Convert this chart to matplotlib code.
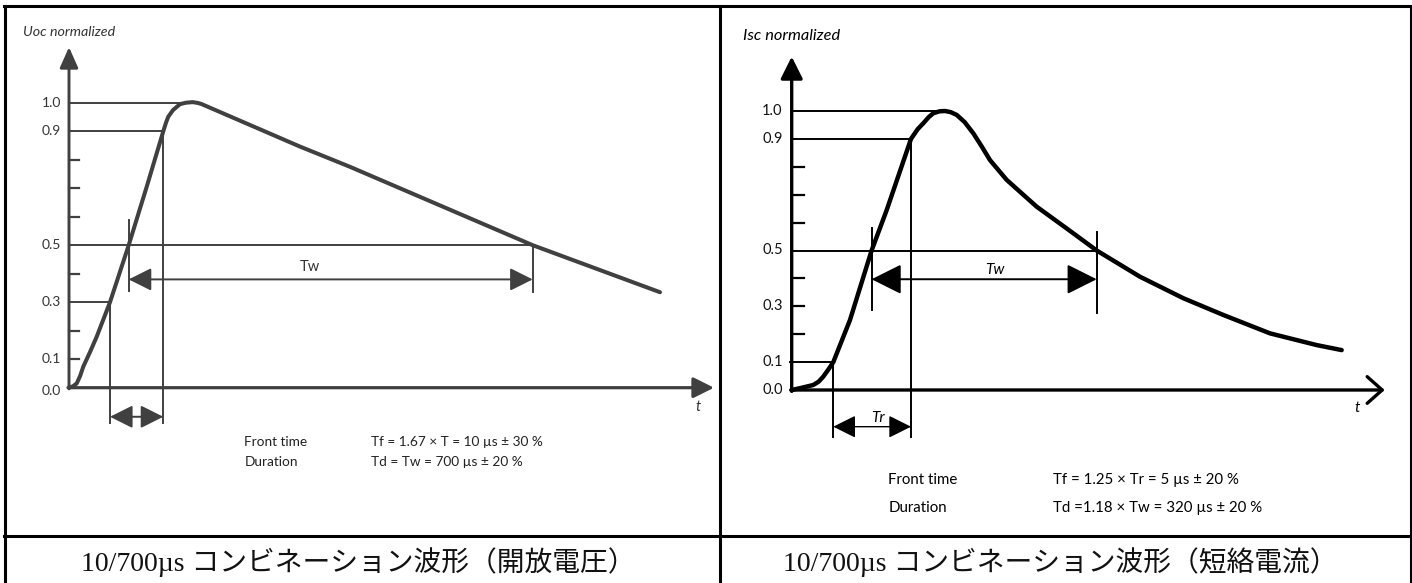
import matplotlib
matplotlib.use("Agg")
import matplotlib.pyplot as plt
from matplotlib.lines import Line2D
from matplotlib.patches import ArrowStyle

# ---------------- data ----------------
# Left panel: normalized open-circuit voltage vs time (arbitrary time units)
uoc_t = [0, 0.4, 0.77, 1.1, 1.43, 2.1, 2.77, 4.1, 5.97, 7.77, 9.43, 9.7, 9.93, 10.4, 11.1,
         11.7, 12.37, 12.9, 13.27, 23.1, 28.1, 46.37, 59.1]
uoc_v = [0, 0.005, 0.015, 0.04, 0.074, 0.125, 0.179, 0.3, 0.5, 0.705, 0.9, 0.93, 0.951, 0.974, 0.995,
         1.0, 1.002, 0.999, 0.995, 0.846, 0.775, 0.5, 0.335]
uoc_level_v = [0.3, 0.9, 1.0]          # guide lines up to the rising edge
uoc_level_t = [4.1, 9.43, 11.8]
uoc_half_rise_t = 5.97
uoc_half_fall_t = 46.37

# Right panel: normalized short-circuit current vs time (arbitrary time units)
isc_t = [0, 1.0, 2.16, 2.7, 3.16, 3.7, 4.16, 5.83, 7.99, 9.5, 11.93, 12.6, 13.16, 13.7, 14.16,
         14.8, 15.33, 15.9, 16.5, 17.3, 18.16, 19.0, 19.83, 21.5, 24.5, 27.5, 30.5, 34.83,
         39.16, 43.16, 47.83, 52.5, 55.0]
isc_v = [0, 0.008, 0.018, 0.03, 0.048, 0.075, 0.1, 0.251, 0.5, 0.645, 0.9, 0.935, 0.956, 0.978, 0.992,
         0.999, 1.0, 0.996, 0.986, 0.96, 0.92, 0.873, 0.824, 0.753, 0.657, 0.579, 0.5, 0.406,
         0.329, 0.269, 0.203, 0.161, 0.143]
isc_level_v = [0.1, 0.9, 1.0]
isc_level_t = [4.16, 11.93, 15.4]
isc_half_rise_t = 7.99
isc_half_fall_t = 30.5

tick_minor_left = [0.1, 0.2, 0.4, 0.6, 0.7, 0.8]
tick_minor_right = [0.2, 0.3, 0.4, 0.6, 0.7, 0.8]
tick_label_vals = [0.0, 0.1, 0.3, 0.5, 0.9, 1.0]
tick_label_txt = ["0.0", "0.1", "0.3", "0.5", "0.9", "1.0"]

left_ylabel = "Uoc normalized"
right_ylabel = "Isc normalized"
left_lines = [("Front time", "Tf = 1.67 × T = 10 µs ± 30 %"),
              ("Duration", "Td = Tw = 700 µs ± 20 %")]
right_lines = [("Front time", "Tf = 1.25 × Tr = 5 µs ± 20 %"),
               ("Duration", "Td =1.18 × Tw = 320 µs ± 20 %")]
captions = ["10/700µs コンビネーション波形（開放電圧）",
            "10/700µs コンビネーション波形（短絡電流）"]

# ---------------- figure ----------------
W, H = 1412, 583
fig = plt.figure(figsize=(W / 100, H / 100), dpi=100)
fig.patch.set_facecolor("white")
SANS = ["Lato", "DejaVu Sans"]
CAP = ["Liberation Serif", "Noto Sans CJK JP", "DejaVu Sans"]


def panel(px_l, px_r, px_t, px_b, t0px, v0px, ppt, ppv):
    ax = fig.add_axes([px_l / W, (H - px_b) / H, (px_r - px_l) / W, (px_b - px_t) / H])
    ax.set_xlim((px_l - t0px) / ppt, (px_r - t0px) / ppt)
    ax.set_ylim((v0px - px_b) / ppv, (v0px - px_t) / ppv)
    ax.axis("off")
    return ax


def dbl_arrow(ax, x0, x1, y, color, lw, hl, hw, scale):
    ax.annotate("", xy=(x1, y), xytext=(x0, y),
                arrowprops=dict(arrowstyle=ArrowStyle("<|-|>", head_length=hl, head_width=hw),
                                mutation_scale=scale, color=color, lw=lw,
                                shrinkA=0, shrinkB=0))


# ---- left panel ----
GL = "#404040"
axL = panel(5, 720, 6, 536, 69, 387.7, 10.0, 285.0)
axL.plot(uoc_t, uoc_v, color=GL, lw=2.9, solid_joinstyle="round", solid_capstyle="round")
axL.annotate("", xy=(0, 1.195), xytext=(0, -0.004),
             arrowprops=dict(arrowstyle=ArrowStyle("-|>", head_length=0.9, head_width=0.4),
                             mutation_scale=14, color=GL, lw=2.1, shrinkA=0, shrinkB=0))
axL.annotate("", xy=(64.5, 0), xytext=(-0.1, 0),
             arrowprops=dict(arrowstyle=ArrowStyle("-|>", head_length=0.9, head_width=0.45),
                             mutation_scale=14, color=GL, lw=2.3, shrinkA=0, shrinkB=0))
for v in tick_minor_left:
    axL.plot([0, 1.0], [v, v], color=GL, lw=1.6)
for v, t in zip(uoc_level_v, uoc_level_t):
    axL.plot([0, t], [v, v], color=GL, lw=1.4)
axL.plot([0, uoc_half_fall_t], [0.5, 0.5], color=GL, lw=1.4)
for t, v in zip(uoc_level_t[:2], uoc_level_v[:2]):
    axL.plot([t, t], [v, -0.125], color=GL, lw=1.4)
axL.plot([uoc_half_rise_t] * 2, [0.588, 0.339], color=GL, lw=1.4)
axL.plot([uoc_half_fall_t] * 2, [0.5, 0.335], color=GL, lw=1.4)
dbl_arrow(axL, uoc_half_rise_t, uoc_half_fall_t, 0.380, GL, 1.4, 1.0, 0.5, 14)
dbl_arrow(axL, uoc_level_t[0], uoc_level_t[1], -0.102, GL, 1.4, 1.0, 0.5, 14)
axL.text(24.1, 0.425, "Tw", fontsize=10.5, family=SANS, color="#333333", ha="center", va="center")
for v, s in zip(tick_label_vals, tick_label_txt):
    axL.text(-0.8, v - (0.012 if v == 0 else 0), s, fontsize=10, family=SANS, color="#333333",
             ha="right", va="center")
axL.text(-4.6, 1.249, left_ylabel, fontsize=10.3, family=SANS, style="italic", color="#333333",
         ha="left", va="center")
axL.text(62.9, -0.069, "t", fontsize=10.5, family=SANS, style="italic", color="#333333",
         ha="center", va="center")
for i, (a, b) in enumerate(left_lines):
    y = -0.19 - i * 0.072
    axL.text(17.55, y, a, fontsize=9.8, family=SANS, color="#222222", ha="left", va="center")
    axL.text(30.2, y, b, fontsize=9.8, family=SANS, color="#222222", ha="left", va="center")

# ---- right panel ----
K = "black"
axR = panel(720, 1412, 6, 536, 791.7, 390.0, 10.0, 279.0)
axR.plot(isc_t, isc_v, color=K, lw=3.2, solid_joinstyle="round", solid_capstyle="round")
axR.annotate("", xy=(0, 1.195), xytext=(0, -0.005),
             arrowprops=dict(arrowstyle=ArrowStyle("-|>", head_length=0.9, head_width=0.45),
                             mutation_scale=15, color=K, lw=2.4, shrinkA=0, shrinkB=0))
axR.annotate("", xy=(59.3, 0), xytext=(-0.1, 0),
             arrowprops=dict(arrowstyle=ArrowStyle("->", head_length=0.9, head_width=0.8),
                             mutation_scale=12, color=K, lw=2.4, shrinkA=0, shrinkB=0))
for v in tick_minor_right:
    axR.plot([0, 1.25], [v, v], color=K, lw=1.6)
for v, t in zip(isc_level_v, isc_level_t):
    axR.plot([-0.2 if v < 0.2 else 0, t], [v, v], color=K, lw=1.4)
axR.plot([0, isc_half_fall_t], [0.5, 0.5], color=K, lw=1.4)
for t, v in zip(isc_level_t[:2], isc_level_v[:2]):
    axR.plot([t, t], [v, -0.167], color=K, lw=1.4)
axR.plot([isc_half_rise_t] * 2, [0.58, 0.287], color=K, lw=1.4)
axR.plot([isc_half_fall_t] * 2, [0.567, 0.275], color=K, lw=1.4)
dbl_arrow(axR, isc_half_rise_t, isc_half_fall_t, 0.397, K, 1.4, 1.1, 0.55, 17)
dbl_arrow(axR, isc_level_t[0], isc_level_t[1], -0.1315, K, 1.0, 1.0, 0.5, 14)
axR.text(20.33, 0.43, "Tw", fontsize=11, family=SANS, style="italic", color=K, ha="center", va="center")
axR.text(8.63, -0.1, "Tr", fontsize=11, family=SANS, style="italic", color=K, ha="center", va="center")
for v, s in zip(tick_label_vals, tick_label_txt):
    axR.text(-0.9, v, s, fontsize=10.5, family=SANS, color="#111111", ha="right", va="center")
axR.text(-4.84, 1.269, right_ylabel, fontsize=11.8, family=SANS, style="italic", color=K,
         ha="left", va="center")
axR.text(56.5, -0.065, "t", fontsize=11, family=SANS, style="italic", color=K, ha="center", va="center")
for i, (a, b) in enumerate(right_lines):
    y = -0.3226 - i * 0.1014
    axR.text(9.66, y, a, fontsize=10.8, family=SANS, color=K, ha="left", va="center")
    axR.text(26.16, y, b, fontsize=10.8, family=SANS, color=K, ha="left", va="center")

# ---- table frame ----
def fline(x0, y0, x1, y1, lw=2.2):
    fig.add_artist(Line2D([x0 / W, x1 / W], [1 - y0 / H, 1 - y1 / H],
                          transform=fig.transFigure, color="black", lw=lw))

fline(4, 6, 1412, 6)
fline(5, 6, 5, 583)
fline(1411, 6, 1411, 583)
fline(720, 6, 720, 583)
fline(4, 536, 1412, 536)

# ---- captions ----
fig.text(358 / W, 1 - 562 / H, captions[0], fontsize=20, family=CAP, color="#111111",
         ha="center", va="center")
fig.text(1060 / W, 1 - 562 / H, captions[1], fontsize=20, family=CAP, color="#111111",
         ha="center", va="center")

fig.savefig("out.png", dpi=100, facecolor="white")
